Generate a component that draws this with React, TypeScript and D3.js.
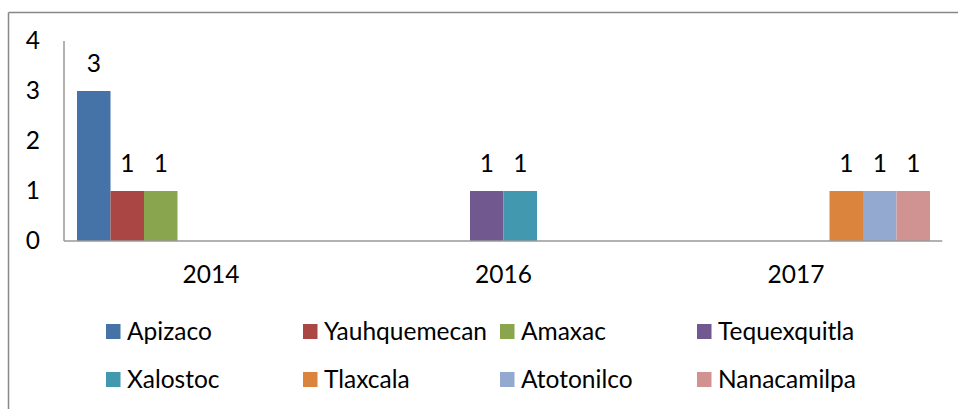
import React from "react";
import * as d3 from "d3";

const categories = ["2014", "2016", "2017"];
const seriesNames = [
  "Apizaco",
  "Yauhquemecan",
  "Amaxac",
  "Tequexquitla",
  "Xalostoc",
  "Tlaxcala",
  "Atotonilco",
  "Nanacamilpa",
];
const seriesColors = [
  "#4572A7",
  "#AA4643",
  "#89A54E",
  "#71588F",
  "#4198AF",
  "#DB843D",
  "#93A9CF",
  "#D19392",
];
// values[series][category]
const values: (number | null)[][] = [
  [3, null, null],
  [1, null, null],
  [1, null, null],
  [null, 1, null],
  [null, 1, null],
  [null, null, 1],
  [null, null, 1],
  [null, null, 1],
];
const yTicks = [0, 1, 2, 3, 4];

const W = 958;
const H = 409;
const FONT = "Lato, 'Open Sans', sans-serif";
const FS = 24.5;

export default function App() {
  const plotLeft = 64.75;
  const plotRight = 942.25;
  const yZero = 241;
  const yTop = 41;

  const x0 = d3.scaleBand<string>().domain(categories).range([plotLeft, plotRight]).padding(0);
  const x1 = d3
    .scaleBand<string>()
    .domain(seriesNames)
    .range([0, x0.bandwidth()])
    .paddingInner(0)
    .paddingOuter(0.366);
  const y = d3.scaleLinear().domain([0, 4]).range([yZero, yTop]);

  const legendCols = [106, 303, 500, 697];
  const legendRows = [324, 372];

  return (
    <svg width={W} height={H} style={{ position: "absolute", left: 0, top: 0, background: "#fff" }}>
      {/* chart border (top and left visible) */}
      <line x1={8.5} y1={12.5} x2={W} y2={12.5} stroke="#888" strokeWidth={1.5} />
      <line x1={8.5} y1={12.5} x2={8.5} y2={H} stroke="#888" strokeWidth={1.5} />

      {/* bars */}
      {seriesNames.map((s, si) =>
        categories.map((c, ci) => {
          const v = values[si][ci];
          if (v == null || v === 0) return null;
          const bx = (x0(c) as number) + (x1(s) as number);
          const bw = x1.bandwidth();
          return (
            <g key={s + c}>
              <rect x={bx} y={y(v)} width={bw} height={y(0) - y(v)} fill={seriesColors[si]} />
              <text
                x={bx + bw / 2}
                y={y(v) - 19}
                textAnchor="middle"
                fontFamily={FONT}
                fontSize={FS}
                fill="#000"
              >
                {v}
              </text>
            </g>
          );
        })
      )}

      {/* axes */}
      <line x1={64} y1={y(4)} x2={64} y2={yZero} stroke="#999" strokeWidth={1.5} />
      <line x1={64} y1={yZero} x2={plotRight} y2={yZero} stroke="#999" strokeWidth={1.5} />

      {/* y tick labels */}
      {yTicks.map((t) => (
        <text
          key={t}
          x={40}
          y={y(t) + 8}
          textAnchor="end"
          fontFamily={FONT}
          fontSize={FS}
          fill="#000"
        >
          {t}
        </text>
      ))}

      {/* category labels */}
      {categories.map((c) => (
        <text
          key={c}
          x={(x0(c) as number) + x0.bandwidth() / 2}
          y={283}
          textAnchor="middle"
          fontFamily={FONT}
          fontSize={FS}
          fill="#000"
        >
          {c}
        </text>
      ))}

      {/* legend */}
      {seriesNames.map((s, i) => {
        const lx = legendCols[i % 4];
        const ly = legendRows[Math.floor(i / 4)];
        return (
          <g key={s}>
            <rect x={lx} y={ly} width={14.5} height={15} fill={seriesColors[i]} />
            <text x={lx + 21} y={ly + 15.5} fontFamily={FONT} fontSize={FS} fill="#000">
              {s}
            </text>
          </g>
        );
      })}
    </svg>
  );
}
